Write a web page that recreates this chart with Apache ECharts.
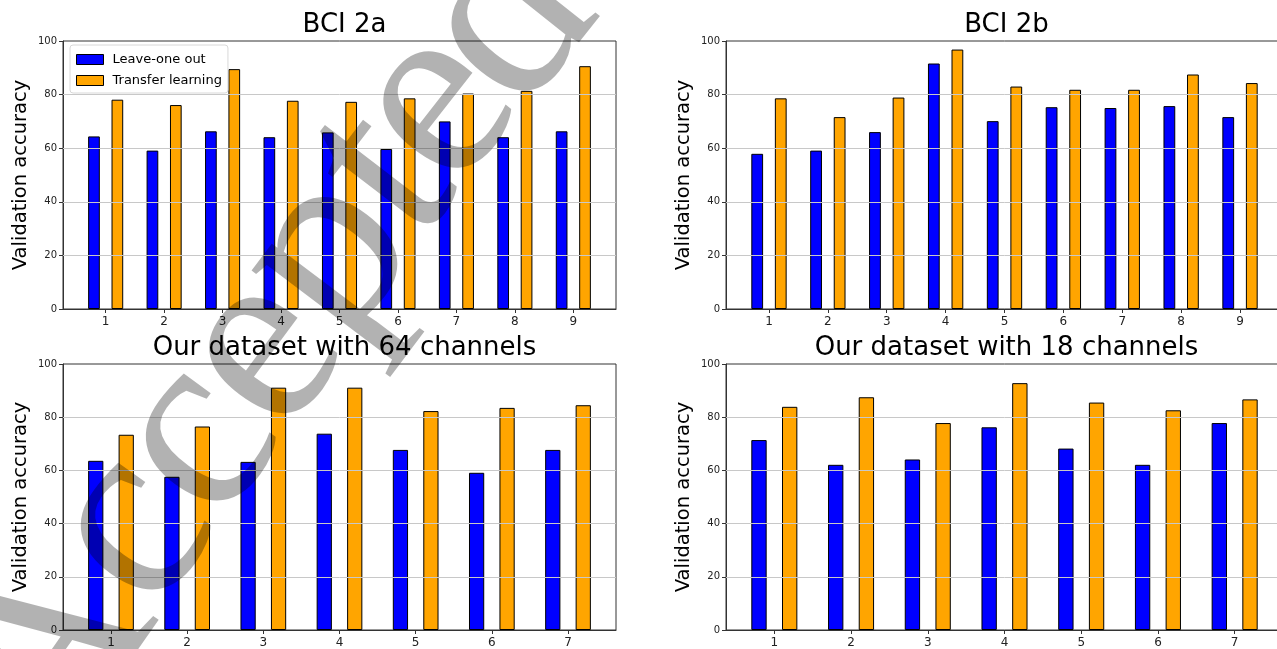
<!DOCTYPE html>
<html>
<head>
    <meta charset="utf-8">
    <title>Validation accuracy</title>
    <style>
        html, body { margin: 0; padding: 0; background: #fff; overflow: hidden; }
        #container { width: 1292px; height: 649px; }
    </style>
</head>
<body>
<div id="container"></div>
<script src="https://cdn.jsdelivr.net/npm/echarts@6/dist/echarts.min.js"></script>
<script type="text/javascript">
    // data
    var titles = ['BCI 2a', 'BCI 2b', 'Our dataset with 64 channels', 'Our dataset with 18 channels'];
    var seriesNames = ['Leave-one out', 'Transfer learning'];
    var gridTicks = [20, 40, 60, 80];

    var subjects9 = [1, 2, 3, 4, 5, 6, 7, 8, 9];
    var subjects7 = [1, 2, 3, 4, 5, 6, 7];

    var bci2aLoo = [64.4, 59.1, 66.3, 64.1, 65.9, 59.7, 70.0, 64.1, 66.3];
    var bci2aTl  = [78.1, 76.1, 89.5, 77.7, 77.3, 78.6, 80.4, 81.4, 90.6];
    var bci2bLoo = [57.9, 59.1, 66.0, 91.6, 70.1, 75.3, 75.0, 75.7, 71.6];
    var bci2bTl  = [78.6, 71.6, 78.9, 96.8, 83.0, 81.8, 81.8, 87.5, 84.3];
    var our64Loo = [63.6, 57.6, 63.2, 73.8, 67.7, 59.1, 67.7];
    var our64Tl  = [73.4, 76.5, 91.1, 91.1, 82.3, 83.5, 84.5];
    var our18Loo = [71.4, 62.1, 64.1, 76.2, 68.2, 62.1, 77.8];
    var our18Tl  = [83.9, 87.5, 77.8, 92.8, 85.5, 82.6, 86.7];

    // "Accepted" stamp, one glyph at a time along the diagonal
    var stampLetters = ['A', 'c', 'c', 'e', 'p', 't', 'e', 'd'];
    var stampPos = [[50, 656], [132, 530], [197, 441], [262, 352], [328, 254], [385, 175], [436, 106], [508, 22]];

    var panels = [
        {x: subjects9, loo: bci2aLoo, tl: bci2aTl},
        {x: subjects9, loo: bci2bLoo, tl: bci2bTl},
        {x: subjects7, loo: our64Loo, tl: our64Tl},
        {x: subjects7, loo: our18Loo, tl: our18Tl}
    ];

    var colors = ['#0000ff', '#ffa500'];
    var font = 'DejaVu Sans';

    // plot boxes (px); right column runs past the window edge like the original
    var boxes = [
        {left: 63, top: 41, width: 553, height: 268},
        {left: 726, top: 41, width: 557, height: 268},
        {left: 63, top: 364, width: 553, height: 268},
        {left: 726, top: 364, width: 557, height: 268}
    ];

    var myChart = echarts.init(document.getElementById('container'), null, {renderer: 'canvas'});

    var grid = [], xAxis = [], yAxis = [], series = [], title = [];

    panels.forEach(function (p, i) {
        var b = boxes[i];
        var n = p.x.length;
        var pad = n === 7 ? 0.63 : 0.73;
        var lo = p.x[0] - pad, hi = p.x[n - 1] + pad;
        var bw = 0.2 * b.width / (hi - lo);

        grid.push({
            left: b.left, top: b.top, width: b.width, height: b.height,
            show: true, borderColor: '#333', borderWidth: 1, backgroundColor: '#fff'
        });
        title.push({
            text: titles[i],
            left: b.left + b.width / 2 - (i % 2 === 1 ? 3 : 0),
            top: b.top - 34,
            textAlign: 'center',
            textStyle: {fontFamily: font, fontSize: 26, fontWeight: 'normal', color: '#000'}
        });
        xAxis.push({
            type: 'value', gridIndex: i, min: lo, max: hi,
            splitLine: {show: false},
            axisLine: {show: true, onZero: false, lineStyle: {color: '#333', width: 1}},
            axisTick: {show: true, customValues: p.x, length: 4, lineStyle: {color: '#333'}},
            axisLabel: {customValues: p.x, fontFamily: font, fontSize: 12, color: '#222', margin: 7}
        });
        yAxis.push({
            type: 'value', gridIndex: i, min: 0, max: 100, interval: 20,
            name: 'Validation accuracy', nameLocation: 'middle', nameGap: 32,
            nameTextStyle: {fontFamily: font, fontSize: 19.5, color: '#000'},
            splitLine: {show: false},
            axisLine: {show: true, lineStyle: {color: '#333', width: 1}},
            axisTick: {show: true, length: 4, lineStyle: {color: '#333'}},
            axisLabel: {fontFamily: font, fontSize: 10, color: '#222', margin: 6}
        });
        series.push({
            name: seriesNames[0], type: 'bar', xAxisIndex: i, yAxisIndex: i,
            data: p.x.map(function (x, k) { return [x, p.loo[k]]; }),
            barWidth: bw, barGap: '100%',
            itemStyle: {color: colors[0], borderColor: '#000', borderWidth: 1}
        });
        series.push({
            name: seriesNames[1], type: 'bar', xAxisIndex: i, yAxisIndex: i,
            data: p.x.map(function (x, k) { return [x, p.tl[k]]; }),
            barWidth: bw, barGap: '100%',
            itemStyle: {color: colors[1], borderColor: '#000', borderWidth: 1},
            // matplotlib draws its grid above the bars
            markLine: {
                silent: true, symbol: 'none', animation: false,
                label: {show: false},
                lineStyle: {color: '#c8c8c8', type: 'solid', width: 1},
                data: gridTicks.map(function (v) { return {yAxis: v}; })
            }
        });
    });

    var stamp = stampLetters.map(function (ch, k) {
        return {
            type: 'text', silent: true, z: 100,
            x: stampPos[k][0], y: stampPos[k][1],
            rotation: (55 - k * 0.5) * Math.PI / 180,
            style: {
                text: ch,
                font: '260px "Liberation Serif"',
                fill: 'rgba(0,0,0,0.3)',
                textAlign: 'center', textVerticalAlign: 'middle'
            }
        };
    });

    var option = {
        animation: false,
        title: title,
        grid: grid,
        xAxis: xAxis,
        yAxis: yAxis,
        legend: {
            data: seriesNames,
            orient: 'vertical',
            left: 70, top: 45,
            itemWidth: 27, itemHeight: 10, itemGap: 8,
            padding: [8, 6, 6, 6],
            backgroundColor: 'rgba(255,255,255,0.85)',
            borderColor: '#d8d8d8', borderWidth: 1, borderRadius: 3,
            icon: 'rect',
            itemStyle: {borderColor: '#000', borderWidth: 1},
            textStyle: {fontFamily: font, fontSize: 13, color: '#000', padding: [0, 0, 0, 4]},
            selectedMode: false
        },
        graphic: stamp,
        series: series
    };

    if (option && typeof option === "object") {
        myChart.setOption(option, true);
    }
</script>
</body>
</html>
